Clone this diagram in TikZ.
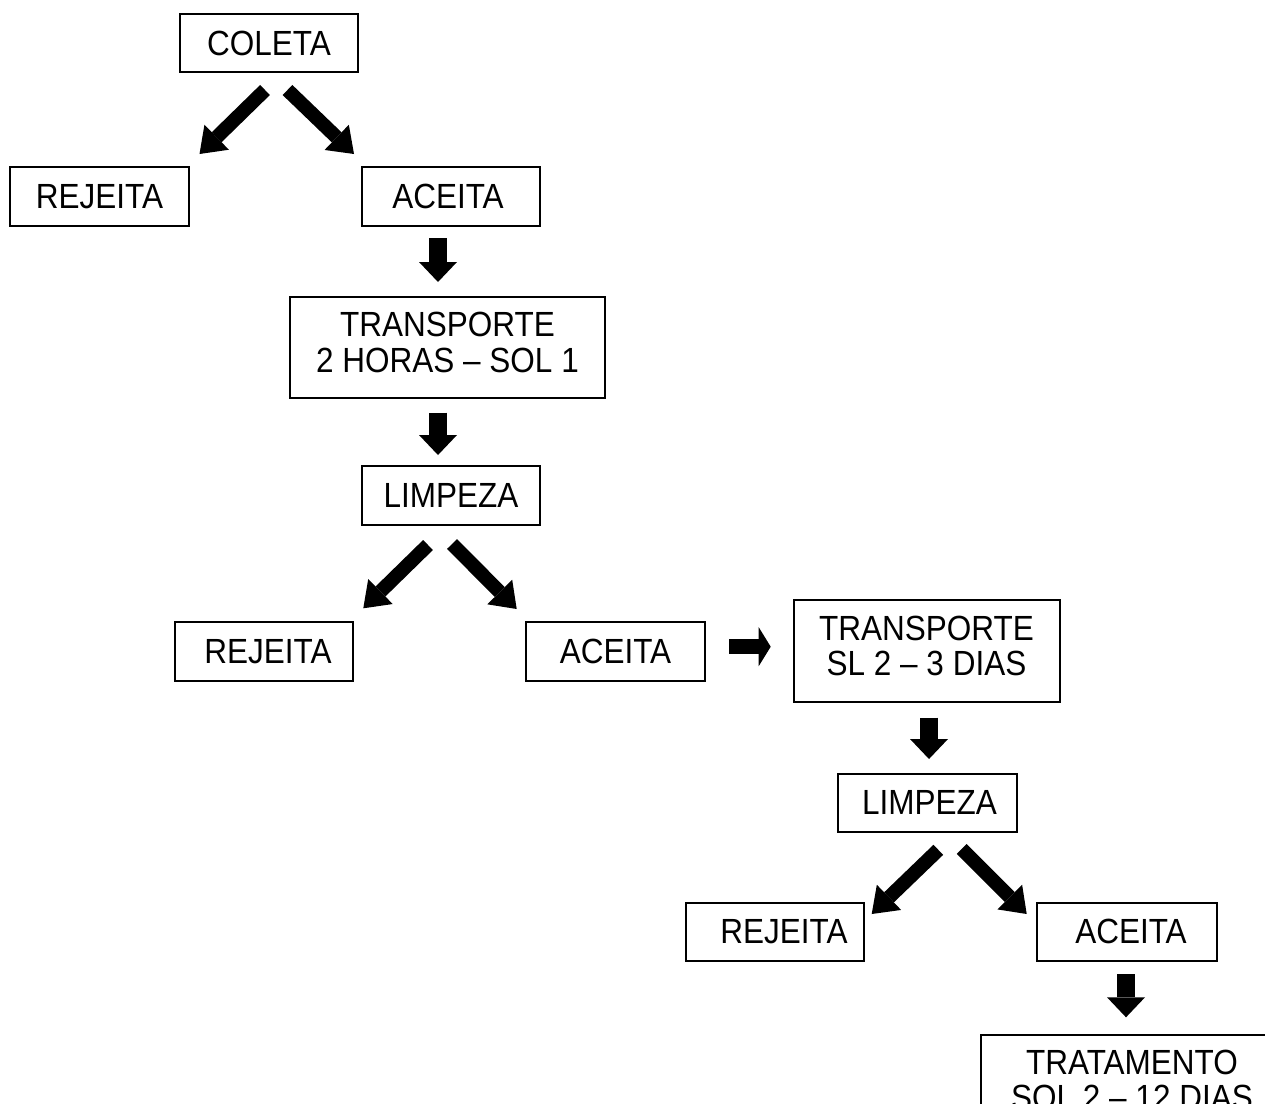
\documentclass[tikz,border=0pt]{standalone}
\usepackage{fontspec}
\setmainfont{Liberation Sans}
\usetikzlibrary{arrows.meta}
\newcommand{\boxtxt}[1]{\scalebox{1}[1.11]{#1}}
\newcommand{\twoline}[2]{\scalebox{1}[1.11]{\begin{tabular}{@{}c@{}}#1\\#2\end{tabular}}}
\tikzset{
  stepbox/.style={draw=black, line width=2pt, rectangle, inner sep=0pt, align=center,
    font=\fontsize{31.5}{32}\selectfont},
  vblk/.style={line width=18pt, line cap=butt, -{Triangle[length=20pt 0 0, width=38pt 0 0, line width=0pt 0 0]}},
  dblk/.style={line width=14pt, line cap=butt, -{Triangle[length=24pt 0 0, width=35pt 0 0, line width=0pt 0 0]}},
  hblk/.style={line width=15pt, line cap=butt, -{Triangle[length=12pt 0 0, width=39pt 0 0, line width=0pt 0 0]}},
}
\begin{document}
\begin{tikzpicture}[x=1pt, y=-1pt]
\useasboundingbox (0,0) rectangle (1265,1103);
\clip (0,0) rectangle (1265,1103);
\fill[white] (0,0) rectangle (1265,1103);

% boxes
\node[stepbox, minimum width=178pt, minimum height=58pt] (coleta) at (269,43) {\boxtxt{COLETA}};
\node[stepbox, minimum width=179pt, minimum height=59pt] (rej1) at (99.5,196.5) {\boxtxt{REJEITA}};
\node[stepbox, minimum width=178pt, minimum height=59pt] (ace1) at (451,196.5) {\boxtxt{ACEITA\hspace{6pt}}};
\node[stepbox, minimum width=315pt, minimum height=101pt] (trans1) at (447.5,347.5) {\twoline{TRANSPORTE}{2 HORAS – SOL 1}};
\node[stepbox, minimum width=178pt, minimum height=59pt] (limp1) at (451,495.5) {\boxtxt{LIMPEZA}};
\node[stepbox, minimum width=178pt, minimum height=59pt] (rej2) at (264,651.5) {\boxtxt{\hspace{8pt}REJEITA}};
\node[stepbox, minimum width=179pt, minimum height=59pt] (ace2) at (615.5,651.5) {\boxtxt{ACEITA}};
\node[stepbox, minimum width=266pt, minimum height=102pt] (trans2) at (926.5,651) {\twoline{TRANSPORTE}{SL 2 – 3 DIAS}};
\node[stepbox, minimum width=179pt, minimum height=58pt] (limp2) at (927.5,802.5) {\boxtxt{\hspace{4pt}LIMPEZA}};
\node[stepbox, minimum width=178pt, minimum height=58pt] (rej3) at (775,931.5) {\boxtxt{\hspace{18pt}REJEITA}};
\node[stepbox, minimum width=180pt, minimum height=58pt] (ace3) at (1127,931.5) {\boxtxt{\hspace{8pt}ACEITA}};
\node[stepbox, minimum width=302pt, minimum height=100pt] (trat) at (1132,1085) {\twoline{TRATAMENTO}{SOL 2 – 12 DIAS}};

% block arrows
\draw[dblk] ([shift={(-4,17)}]coleta.south) -- ([shift={(100,-12)}]rej1.north);
\draw[dblk] ([shift={(18.5,17)}]coleta.south) -- ([shift={(-97,-12)}]ace1.north);
\draw[vblk] ([shift={(-13,11)}]ace1.south) -- ([shift={(-9.5,-14)}]trans1.north);
\draw[vblk] ([shift={(-9.5,13.7)}]trans1.south) -- ([shift={(-13,-10)}]limp1.north);
\draw[dblk] ([shift={(-23,19)}]limp1.south) -- ([shift={(99.3,-12.7)}]rej2.north);
\draw[dblk] ([shift={(1,18)}]limp1.south) -- ([shift={(-98.8,-12)}]ace2.north);
\draw[hblk] ([shift={(23,-4.8)}]ace2.east) -- ([shift={(-21.8,-4.3)}]trans2.west);
\draw[vblk] ([shift={(2.5,14.7)}]trans2.south) -- ([shift={(1.5,-13.5)}]limp2.north);
\draw[dblk] ([shift={(10.8,17.3)}]limp2.south) -- ([shift={(96.7,12.5)}]rej3.north);
\draw[dblk] ([shift={(34.2,16.5)}]limp2.south) -- ([shift={(-100.3,12.5)}]ace3.north);
\draw[vblk] ([shift={(-1,12.8)}]ace3.south) -- ([shift={(-6,-16.7)}]trat.north);
\end{tikzpicture}
\end{document}
